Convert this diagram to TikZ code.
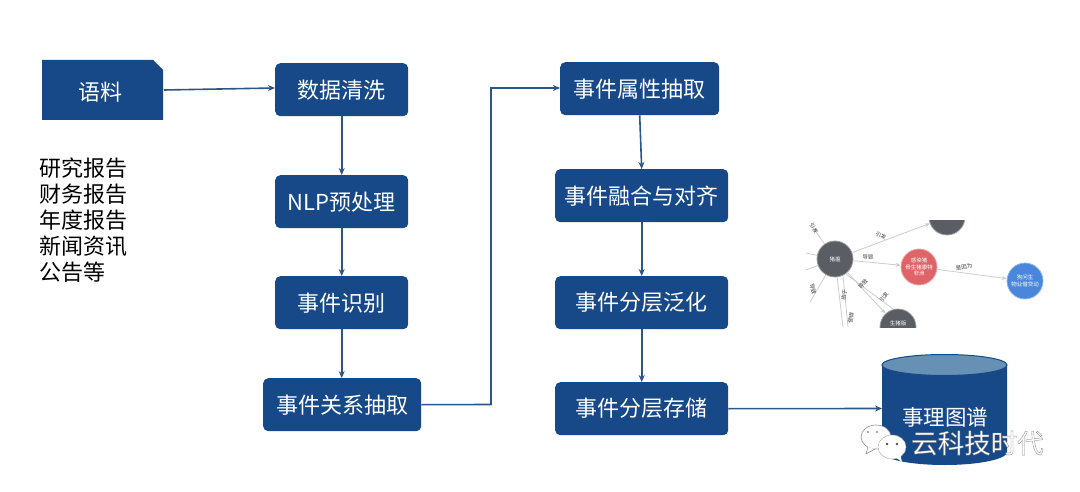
\documentclass[tikz,border=0pt]{standalone}
\usepackage{fontspec}
\setmainfont{Noto Sans CJK SC}
\usetikzlibrary{arrows.meta,calc}
\definecolor{boxblue}{HTML}{174888}
\definecolor{capblue}{HTML}{6690B4}
\definecolor{linkblue}{HTML}{2A5688}
\definecolor{gnode}{HTML}{5A5D63}
\definecolor{rnode}{HTML}{DF6468}
\definecolor{bnode}{HTML}{4A86DC}
\definecolor{gline}{HTML}{C9CBCE}
\newcommand{\outlined}[1]{\special{pdf:code 2 Tr 0.35 w 0.55 G}#1\special{pdf:code 0 Tr 0 G}}
\tikzset{
  x=1pt,y=-1pt,
  flow/.style={rounded corners=5pt,fill=boxblue,text=white,font=\fontsize{22}{24}\selectfont,inner sep=0pt,anchor=north west},
  link/.style={draw=linkblue,line width=1.6pt,-{Stealth[length=7pt,width=6pt]}},
  sidetext/.style={anchor=west,inner sep=0pt,font=\fontsize{22}{24}\selectfont},
  gn/.style={circle,fill=#1,draw=#1!60!white,line width=.8pt,minimum size=36pt,inner sep=0pt,text=white,align=center,font=\fontsize{5.5}{6.5}\selectfont},
  gl/.style={draw=gline,line width=.8pt},
  ga/.style={gl,-{Stealth[length=5pt,width=4pt]}},
  glab/.style={font=\fontsize{5.5}{6.5}\selectfont,text=black!75,inner sep=0pt},
}
\begin{document}
\begin{tikzpicture}
\useasboundingbox (0,0) rectangle (1080,492);
% source document
\fill[boxblue] (42,60) -- (153,60) -- (163,70) -- (163,120) -- (42,120) -- cycle;
\node[inner sep=0pt,text=white,font=\fontsize{22}{24}\selectfont] (yuliao) at (100,92) {语料};
\coordinate (yuliaoR) at (164,90);
% flow boxes
\node[flow,minimum width=133pt,minimum height=53pt] (a1) at (275,63) {数据清洗};
\node[flow,minimum width=133pt,minimum height=53pt] (a2) at (275,175) {NLP预处理};
\node[flow,minimum width=133pt,minimum height=53pt] (a3) at (275,276) {事件识别};
\node[flow,minimum width=158pt,minimum height=53pt] (a4) at (263,378) {事件关系抽取};
\node[flow,minimum width=159pt,minimum height=53pt] (b1) at (560,62) {事件属性抽取};
\node[flow,minimum width=173pt,minimum height=53pt] (b2) at (555,169) {事件融合与对齐};
\node[flow,minimum width=173pt,minimum height=53pt] (b3) at (555,276) {事件分层泛化};
\node[flow,minimum width=173pt,minimum height=53pt] (b4) at (555,382) {事件分层存储};
% side list
\node[sidetext] (s1) at (39,168) {研究报告};
\node[sidetext] (s2) at (39,194) {财务报告};
\node[sidetext] (s3) at (39,220) {年度报告};
\node[sidetext] (s4) at (39,246) {新闻资讯};
\node[sidetext] (s5) at (39,272) {公告等};
% cylinder
\fill[boxblue] (882,365) -- (882,452) arc[start angle=180,end angle=360,x radius=62.5pt,y radius=13pt] -- (1007,365) -- cycle;
\fill[capblue,draw=boxblue,line width=1pt] (944.5,365) ellipse[x radius=62.5pt,y radius=10.5pt];
\coordinate (cylL) at (882,408.5);
\node[inner sep=0pt,text=white,font=\fontsize{21.5}{24}\selectfont] (cyl) at (945,417) {事理图谱};
% connectors
\draw[link] (yuliaoR) -- (a1.west |- 0,88);
\draw[link] (a1.south) -- (a2.north);
\draw[link] (a2.south) -- (a3.north);
\draw[link] (a3.south) -- (a4.north -| a3.south);
\draw[link] (a4.east) -- (491,404.5) -- (491,88) -- (b1.west |- 0,88);
\draw[link] (b1.south) -- (b2.north);
\draw[link] (b2.south) -- (b3.north);
\draw[link] (b3.south) -- (b4.north);
\draw[link] (b4.east) -- (cylL);
% small graph
\begin{scope}
\clip (800,221) rectangle (1060,327);
\node[gn=gnode] (g0) at (835,259) {猪瘟};
\node[gn=gnode] (g1) at (947,217) {};
\node[gn=rnode] (g2) at (919,267) {感染猪\\骨生猪康特\\非洲};
\node[gn=bnode] (g3) at (1025,281) {狗问生\\物业借贷动};
\node[gn=gnode] (g4) at (898,327) {\raisebox{7pt}{生猪版}};
\coordinate (e1) at (812,226);
\coordinate (e2) at (806,253);
\coordinate (e3) at (806,270);
\coordinate (e4) at (810,302);
\coordinate (e5) at (843,327);
\coordinate (e6) at (848,327);
\coordinate (p1) at ($(g0)+(11,15)$);
\coordinate (p2) at ($(g4)+(-5,-18)$);
\coordinate (p3) at ($(g0)+(8,17)$);
\draw[ga] (g0) -- (g1);
\draw[ga] (g0) -- (g2);
\draw[ga] (g2) -- (g3);
\draw[ga] (g0) -- (g4);
\draw[gl] (p1) -- (p2);
\draw[gl] (g0) -- (e1);
\draw[gl] (g0) -- (e2);
\draw[gl] (g0) -- (e3);
\draw[gl] (g0) -- (e4);
\draw[gl] (g0) -- (e5);
\draw[gl] (p3) -- (e6);
\end{scope}
\node[glab,rotate=-60] at (814,228) {引发};
\node[glab,rotate=-25] at (881,236) {引发};
\node[glab,rotate=8] at (868,257) {导致};
\node[glab,rotate=8] at (964,267) {是因为};
\node[glab,rotate=50] at (863,284) {导致};
\node[glab,rotate=55] at (884,297) {引发};
\node[glab,rotate=-75] at (813,289) {导致};
\node[glab,rotate=80] at (844,295) {由于};
\node[glab,rotate=80] at (851,318) {使得};
% watermark
\draw[draw=black!45,fill=white,line width=.6pt] (876,437) ellipse[x radius=15pt,y radius=12pt];
\draw[draw=black!45,fill=white,line width=.6pt] (868,447) -- (866,454) -- (875,449);
\fill[white,draw=black!30,line width=.5pt] (892,447) ellipse[x radius=14pt,y radius=12pt];
\fill[white] (895,457) -- (902,462) -- (900,453) -- cycle;
\fill[black!70] (887,444) circle[radius=1.4pt] (897,444) circle[radius=1.4pt];
\fill[black!45] (868,432) circle[radius=1.2pt] (877,432) circle[radius=1.2pt];
\node[anchor=west,inner sep=0pt,font=\fontsize{26.5}{29}\selectfont,text=white] (wm) at (911,443) {\outlined{云科技时代}};
\end{tikzpicture}
\end{document}
